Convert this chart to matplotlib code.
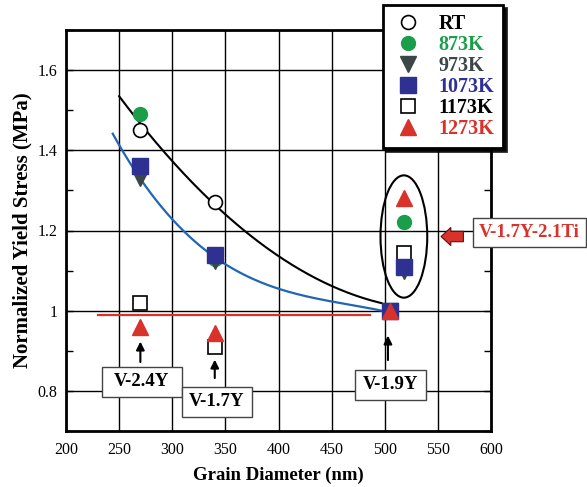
import numpy as np
import matplotlib
matplotlib.use("Agg")
import matplotlib.pyplot as plt
from matplotlib.patches import Ellipse, Rectangle
from matplotlib.lines import Line2D

plt.rcParams['font.family'] = ['Liberation Serif', 'DejaVu Serif']

# ---- data ----
grain = [270, 340, 505, 518]
rt     = [1.45, 1.27, 1.00, np.nan]
k873   = [1.49, 1.13, 1.00, 1.22]
k973   = [1.33, 1.125, 1.00, 1.10]
k1073  = [1.36, 1.14, 1.00, 1.11]
k1173  = [1.02, 0.91, 1.00, 1.145]
k1273  = [0.96, 0.945, 1.00, 1.28]

# points
black_fit_x = [250, 270, 300, 340, 364, 411, 450, 497]
black_fit_y = [1.54, 1.46, 1.37, 1.27, 1.21, 1.115, 1.06, 1.02]
blue_fit_x = [244, 268, 300, 340, 411, 460, 500]
blue_fit_y = [1.445, 1.33, 1.23, 1.135, 1.0475, 1.015, 1.00]

ref_level = 0.99
ref_x = [230, 486]

labels = ['RT', '873K', '973K', '1073K', '1173K', '1273K']
c_green = '#1a9e4a'
c_dark = '#3b4747'
c_blue = '#2e3192'
c_red = '#d8322b'
c_curve = '#1f66b5'

W, H = 587, 487
fig = plt.figure(figsize=(W/100, H/100), dpi=100)
ax = fig.add_axes([66/W, 1-431/H, 425/W, 401/H])
ax.set_xlim(200, 600)
ax.set_ylim(0.7, 1.7)

ax.set_xticks(np.arange(200, 601, 50))
ax.set_yticks([0.8, 1.0, 1.2, 1.4, 1.6])
ax.set_yticklabels(['0.8', '1', '1.2', '1.4', '1.6'])
ax.set_yticks(np.arange(0.7, 1.71, 0.1), minor=True)
ax.grid(True, which='major', color='black', linewidth=1.0)
ax.tick_params(axis='x', which='major', labelsize=11.5, length=0, pad=8)
ax.tick_params(axis='y', which='major', labelsize=11.5, direction='in', length=5, width=1,
               left=True, right=True, pad=6)
ax.tick_params(axis='y', which='minor', direction='in', length=5, width=1, left=True, right=True)
for s in ax.spines.values():
    s.set_linewidth(2)
ax.set_axisbelow(True)

# fitted curves
xb = np.linspace(black_fit_x[0], black_fit_x[-1], 200)
pb = np.polyfit(black_fit_x, black_fit_y, 3)
ax.plot(xb, np.polyval(pb, xb), color='black', lw=1.5, zorder=3)
xc = np.linspace(blue_fit_x[0], blue_fit_x[-1], 200)
pc = np.polyfit(blue_fit_x, blue_fit_y, 3)
ax.plot(xc, np.polyval(pc, xc), color=c_curve, lw=1.6, zorder=3)

# red reference line
ax.plot(ref_x, [ref_level, ref_level], color=c_red, lw=1.6, zorder=3)

ms_c, ms_s, ms_t = 10, 11, 11
ax.plot(grain, k873, 'o', color=c_green, ms=ms_c, mec=c_green, zorder=4)
ax.plot(grain, rt, 'o', mfc='white', mec='black', mew=1.2, ms=ms_c, zorder=5)
ax.plot(grain, k973, 'v', color=c_dark, ms=ms_t, zorder=5)
ax.plot(grain, k1173, 's', mfc='white', mec='black', mew=1.2, ms=ms_s - 1, zorder=6)
ax.plot(grain, k1073, 's', color=c_blue, ms=ms_s, zorder=7)
ax.plot(grain, k1273, '^', color=c_red, ms=ms_t, zorder=8)

# ellipse
ax.add_patch(Ellipse((518, 1.185), 44, 0.305, fill=False, ec='black', lw=1.5, zorder=9))

# up arrows
for x0, y0, y1 in [(270, 0.865, 0.93), (340, 0.825, 0.885), (503, 0.87, 0.945)]:
    ax.annotate('', xy=(x0, y1), xytext=(x0, y0),
                arrowprops=dict(arrowstyle='-|>', color='black', lw=1.5, mutation_scale=12),
                zorder=10)

# label boxes (data coords): text, x0, x1, y0, y1
boxes = [('V-2.4Y', 234, 309, 0.785, 0.86),
         ('V-1.7Y', 309, 375, 0.735, 0.81),
         ('V-1.9Y', 472, 539, 0.7775, 0.8525)]
for txt, x0, x1, y0, y1 in boxes:
    ax.add_patch(Rectangle((x0, y0), x1 - x0, y1 - y0, fc='white', ec='#444444', lw=1, zorder=11))
    ax.text((x0 + x1) / 2, (y0 + y1) / 2, txt, ha='center', va='center', fontsize=13.5,
            fontweight='bold', zorder=12)

# V-1.7Y-2.1Ti label with block arrow
fig.patches.append(Rectangle((473/W, 1-247/H), 113/W, 29/H, transform=fig.transFigure,
                             fc='white', ec='#444444', lw=1, zorder=11))
fig.text(529.5/W, 1-232.5/H, 'V-1.7Y-2.1Ti', ha='center', va='center', fontsize=13.5,
         fontweight='bold', color=c_red, zorder=12)
ax.annotate('', xy=(553, 1.185), xytext=(574, 1.185), annotation_clip=False,
            arrowprops=dict(arrowstyle='simple,head_length=0.7,head_width=1.3,tail_width=0.75',
                            fc=c_red, ec='#5a1010', lw=0.8, shrinkA=0, shrinkB=0), zorder=11)

ax.set_xlabel('Grain Diameter (nm)', fontsize=13.5, fontweight='bold', labelpad=6)
ax.set_ylabel('Normalized Yield Stress (MPa)', fontsize=15, fontweight='bold', labelpad=4)

# legend
handles = [
    Line2D([], [], ls='none', marker='o', mfc='white', mec='black', mew=1.2, ms=ms_c),
    Line2D([], [], ls='none', marker='o', color=c_green, ms=ms_c),
    Line2D([], [], ls='none', marker='v', color=c_dark, ms=ms_t),
    Line2D([], [], ls='none', marker='s', color=c_blue, ms=ms_s),
    Line2D([], [], ls='none', marker='s', mfc='white', mec='black', mew=1.2, ms=ms_s - 1),
    Line2D([], [], ls='none', marker='^', color=c_red, ms=ms_t),
]
leg = fig.legend(handles, labels, loc='upper left', bbox_to_anchor=(383/W, 1-5/H),
                 borderaxespad=0, frameon=True, fancybox=False, edgecolor='black', framealpha=1,
                 prop={'weight': 'bold', 'size': 14.5}, labelspacing=0.05,
                 handletextpad=0.7, borderpad=0.45, handlelength=1.6,
                 shadow={'color': 'black', 'alpha': 0.85})
leg.get_frame().set_linewidth(2)
for t, c in zip(leg.get_texts(), ['black', c_green, c_dark, c_blue, 'black', c_red]):
    t.set_color(c)

fig.savefig('out.png', dpi=100)
